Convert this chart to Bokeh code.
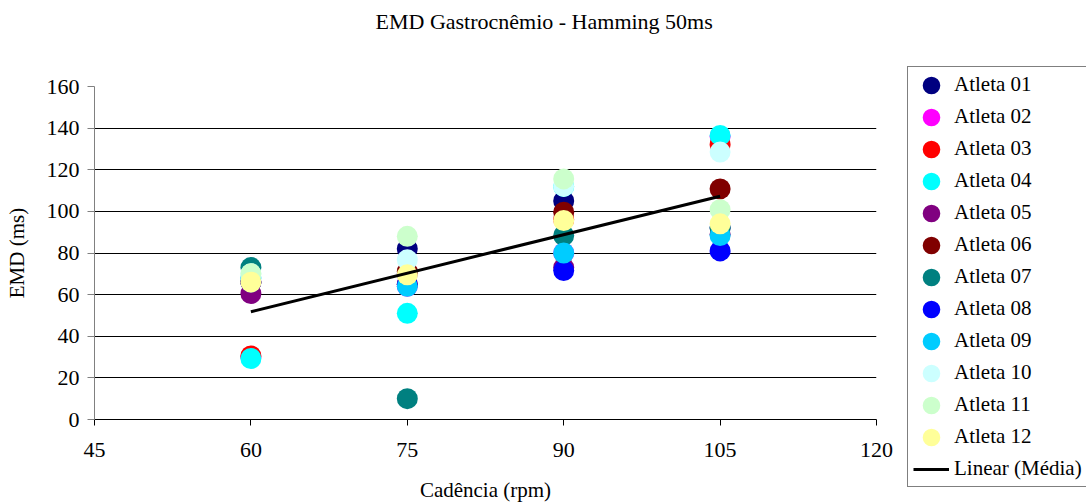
from bokeh.plotting import figure
from bokeh.models import (Range1d, FixedTicker, Legend, LegendItem, ColumnDataSource, Label)
from bokeh.layouts import row, column
from bokeh.embed import file_html
from bokeh.resources import INLINE

cadencia = [60, 75, 90, 105]
atletas = ["Atleta 01", "Atleta 02", "Atleta 03", "Atleta 04", "Atleta 05", "Atleta 06",
           "Atleta 07", "Atleta 08", "Atleta 09", "Atleta 10", "Atleta 11", "Atleta 12"]
cores = ["#000080", "#FF00FF", "#FF0000", "#00FFFF", "#800080", "#800000",
         "#008080", "#0000FF", "#00CCFF", "#CCFFFF", "#CCFFCC", "#FFFF99"]
emd_a01 = [66, 82, 105, 92]
emd_a02 = [30, 64, 80, 136]
emd_a03 = [30.5, 65, 96, 132]
emd_a04 = [29.3, 51, 112, 136.5]
emd_a05 = [60.5, 70, 73, 89]
emd_a06 = [66, 71, 99.6, 110.8]
emd_a07 = [73, 10, 88.4, 92]
emd_a08 = [66, 65, 71.6, 81]
emd_a09 = [68, 64, 80, 88.4]
emd_a10 = [70, 76.7, 112, 128.5]
emd_a11 = [70, 88, 115.6, 100.8]
emd_a12 = [66, 69.5, 95.6, 94]
series = [emd_a01, emd_a02, emd_a03, emd_a04, emd_a05, emd_a06,
          emd_a07, emd_a08, emd_a09, emd_a10, emd_a11, emd_a12]
trend_x = [60, 105]
trend_y = [51.8, 107.3]
x_ticks = [45, 60, 75, 90, 105, 120]
y_ticks = [0, 20, 40, 60, 80, 100, 120, 140, 160]
titulo = "EMD Gastrocnêmio - Hamming 50ms"

FONT = "Liberation Serif"
FS = "22px"
FS_LEG = "21px"

# title strip
tf = figure(width=1086, height=42, output_backend="svg", toolbar_location=None,
            x_range=Range1d(0, 1), y_range=Range1d(0, 1),
            x_axis_type=None, y_axis_type=None,
            min_border_left=0, min_border_right=0, min_border_top=0, min_border_bottom=0)
tf.frame_align = False
tf.outline_line_color = None
tf.xgrid.grid_line_color = None
tf.ygrid.grid_line_color = None
tf.background_fill_color = "white"
tf.border_fill_color = "white"
tf.add_layout(Label(x=375, y=21, x_units="screen", y_units="screen", text=titulo,
                    text_font=FONT, text_font_size=FS, text_color="black",
                    text_align="left", text_baseline="middle"))

p = figure(width=907, height=462, output_backend="svg", toolbar_location=None,
           x_range=Range1d(45, 120), y_range=Range1d(0, 160),
           min_border_left=94, min_border_right=31, min_border_top=44, min_border_bottom=85)
p.outline_line_color = None
p.background_fill_color = "white"
p.border_fill_color = "white"

p.xgrid.grid_line_color = None
p.ygrid.grid_line_color = "black"
p.ygrid.grid_line_width = 1
p.ygrid.ticker = FixedTicker(ticks=y_ticks)

p.xaxis.ticker = FixedTicker(ticks=x_ticks)
p.yaxis.ticker = FixedTicker(ticks=y_ticks)
p.xaxis.minor_tick_line_color = None
p.yaxis.minor_tick_line_color = None
p.xaxis.major_tick_in = 0
p.xaxis.major_tick_out = 6
p.yaxis.major_tick_in = 0
p.yaxis.major_tick_out = 7
p.xaxis.axis_line_color = "black"
p.yaxis.axis_line_color = "#808080"
p.xaxis.major_tick_line_color = "black"
p.yaxis.major_tick_line_color = "#808080"
for ax in (p.xaxis, p.yaxis):
    ax.major_label_text_font = FONT
    ax.major_label_text_font_size = FS
    ax.major_label_text_color = "black"
    ax.axis_label_text_font = FONT
    ax.axis_label_text_font_size = "21px"
    ax.axis_label_text_font_style = "normal"
    ax.axis_label_text_color = "black"
p.xaxis.axis_label = "Cadência (rpm)"
p.yaxis.axis_label = "EMD (ms)"
p.xaxis.major_label_standoff = 17
p.xaxis.axis_label_standoff = 18
p.yaxis.major_label_standoff = 8
p.yaxis.axis_label_standoff = 15

# legend panel (separate, unaligned figure)
lf = figure(width=179, height=462, output_backend="svg", toolbar_location=None,
            x_range=Range1d(0, 1), y_range=Range1d(0, 1),
            x_axis_type=None, y_axis_type=None,
            min_border_left=0, min_border_right=0, min_border_top=0, min_border_bottom=0)
lf.frame_align = False
lf.outline_line_color = None
lf.xgrid.grid_line_color = None
lf.ygrid.grid_line_color = None
lf.background_fill_color = "white"
lf.border_fill_color = "white"

items = []
for nome, cor, vals in zip(atletas, cores, series):
    src = ColumnDataSource(dict(x=cadencia, y=vals))
    p.scatter("x", "y", source=src, size=21, fill_color=cor, line_color=cor, line_width=0)
    # legend proxy: same data, outside this panel's ranges, so only its legend glyph shows
    lr = lf.ellipse("x", "y", source=src, width=21, height=21,
                    width_units="screen", height_units="screen",
                    fill_color=cor, line_color=cor, line_width=0)
    items.append(LegendItem(label=nome, renderers=[lr]))

p.line(trend_x, trend_y, line_color="black", line_width=3)
ll = lf.line(trend_x, trend_y, line_color="black", line_width=3)
items.append(LegendItem(label="Linear (Média)", renderers=[ll]))

legend = Legend(items=items, location=(0, 17))
legend.label_text_font = FONT
legend.label_text_font_size = FS_LEG
legend.label_text_color = "black"
legend.glyph_width = 36
legend.glyph_height = 22
legend.label_height = 22
legend.spacing = 7
legend.padding = 5
legend.margin = 0
legend.label_standoff = 5
legend.border_line_color = "black"
legend.border_line_width = 1
legend.background_fill_color = "white"
legend.background_fill_alpha = 1
lf.add_layout(legend, "center")

layout = column(tf, row(p, lf, spacing=0), spacing=0)
open("out.html", "w").write(file_html(layout, INLINE))
